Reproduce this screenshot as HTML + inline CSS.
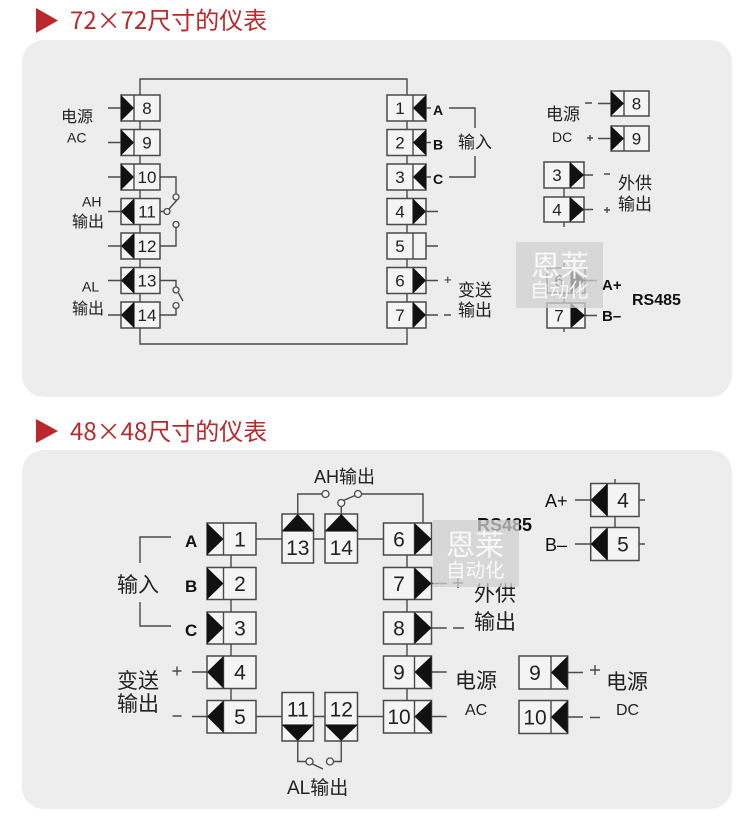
<!DOCTYPE html>
<html><head><meta charset="utf-8"><style>
html,body{margin:0;padding:0;background:#fff;}
svg{display:block;}
.cj{font-family:"Liberation Sans","Noto Sans CJK SC",sans-serif;fill:#222;}
.n{font-family:"Liberation Sans",sans-serif;fill:#222;text-anchor:middle;}
.b{font-family:"Liberation Sans",sans-serif;font-weight:bold;fill:#111;}
.box{fill:#f4f4f4;stroke:#4a4a4a;stroke-width:1.5;}
.ln{stroke:#4a4a4a;stroke-width:1.4;fill:none;}
.tri{fill:#111;}
.c{fill:#f4f4f4;stroke:#4a4a4a;stroke-width:1.3;}
</style></head><body>
<svg width="750" height="836" viewBox="0 0 750 836" xmlns="http://www.w3.org/2000/svg">
<!-- headers -->
<polygon points="36,8 58,20.5 36,33" fill="#b8282c"/>
<text x="70" y="29" font-family="Noto Sans CJK SC, sans-serif" font-size="24" fill="#b8282c">72×72尺寸的仪表</text>
<polygon points="36,419 58,431 36,443" fill="#b8282c"/>
<text x="70" y="440" font-family="Noto Sans CJK SC, sans-serif" font-size="24" fill="#b8282c">48×48尺寸的仪表</text>

<!-- panels -->
<rect x="22" y="40" width="710" height="357" rx="22" fill="#ededed"/>
<rect x="22" y="450" width="710" height="359" rx="22" fill="#ededed"/>

<!-- ===== TOP PANEL ===== -->
<path class="ln" d="M140,95 V79 H407 V95 M140,328 V344 H407 V328 M140,95 V328 M407,95 V328"/>
<path class="ln" d="M108,108 H121 M108,142.5 H121 M108,177 H121 M108,211.5 H121 M108,246 H121 M108,280.5 H121 M108,315 H121"/>
<path class="ln" d="M160,177 H176 V194 M160,211.5 H164 M169,209 L177,200 M160,246 H176 V227.5 M160,280.5 H176 V286.5 M178.5,293 L183,301 M160,315 H176 V308.5"/>
<circle class="c" cx="176" cy="197" r="3"/>
<circle class="c" cx="167" cy="211.5" r="3"/>
<circle class="c" cx="176" cy="224.5" r="3"/>
<circle class="c" cx="176" cy="290" r="3"/>
<circle class="c" cx="176" cy="305.5" r="3"/>
<g>
<rect class="box" x="121" y="95" width="39" height="26"/><line class="ln" x1="134" y1="95" x2="134" y2="121"/><polygon class="tri" points="121,95 134,108 121,121"/><text class="n" x="147" y="114" font-size="17">8</text>
<rect class="box" x="121" y="129.5" width="39" height="26"/><line class="ln" x1="134" y1="129.5" x2="134" y2="155.5"/><polygon class="tri" points="121,129.5 134,142.5 121,155.5"/><text class="n" x="147" y="148.5" font-size="17">9</text>
<rect class="box" x="121" y="164" width="39" height="26"/><line class="ln" x1="134" y1="164" x2="134" y2="190"/><polygon class="tri" points="121,164 134,177 121,190"/><text class="n" x="147" y="183" font-size="17">10</text>
<rect class="box" x="121" y="198.5" width="39" height="26"/><line class="ln" x1="134" y1="198.5" x2="134" y2="224.5"/><polygon class="tri" points="134,198.5 121,211.5 134,224.5"/><text class="n" x="147" y="217.5" font-size="17">11</text>
<rect class="box" x="121" y="233" width="39" height="26"/><line class="ln" x1="134" y1="233" x2="134" y2="259"/><polygon class="tri" points="134,233 121,246 134,259"/><text class="n" x="147" y="252" font-size="17">12</text>
<rect class="box" x="121" y="267.5" width="39" height="26"/><line class="ln" x1="134" y1="267.5" x2="134" y2="293.5"/><polygon class="tri" points="134,267.5 121,280.5 134,293.5"/><text class="n" x="147" y="286.5" font-size="17">13</text>
<rect class="box" x="121" y="302" width="39" height="26"/><line class="ln" x1="134" y1="302" x2="134" y2="328"/><polygon class="tri" points="134,302 121,315 134,328"/><text class="n" x="147" y="321" font-size="17">14</text>
</g>
<text class="cj" x="61" y="122" font-size="16">电源</text>
<text class="cj" x="67" y="142.5" font-size="14">AC</text>
<text class="cj" x="82" y="206.5" font-size="14">AH</text>
<text class="cj" x="72" y="227" font-size="16">输出</text>
<text class="cj" x="82" y="291.5" font-size="14">AL</text>
<text class="cj" x="72" y="314" font-size="16">输出</text>

<path class="ln" d="M426,108 H431 M426,142.5 H431 M426,177 H431 M426,211.5 H438 M426,246 H438 M426,280.5 H438 M426,315 H438 M444,315 H451"/>
<path class="ln" d="M449,108 H475 V128 M475,156 V177 H449"/>
<text class="cj" x="444" y="284" font-size="13">+</text>
<g>
<rect class="box" x="387" y="95" width="39" height="26"/><line class="ln" x1="413" y1="95" x2="413" y2="121"/><polygon class="tri" points="426,95 413,108 426,121"/><text class="n" x="400" y="114" font-size="17">1</text>
<rect class="box" x="387" y="129.5" width="39" height="26"/><line class="ln" x1="413" y1="129.5" x2="413" y2="155.5"/><polygon class="tri" points="426,129.5 413,142.5 426,155.5"/><text class="n" x="400" y="148.5" font-size="17">2</text>
<rect class="box" x="387" y="164" width="39" height="26"/><line class="ln" x1="413" y1="164" x2="413" y2="190"/><polygon class="tri" points="426,164 413,177 426,190"/><text class="n" x="400" y="183" font-size="17">3</text>
<rect class="box" x="387" y="198.5" width="39" height="26"/><line class="ln" x1="413" y1="198.5" x2="413" y2="224.5"/><polygon class="tri" points="413,198.5 426,211.5 413,224.5"/><text class="n" x="400" y="217.5" font-size="17">4</text>
<rect class="box" x="387" y="233" width="39" height="26"/><line class="ln" x1="413" y1="233" x2="413" y2="259"/><text class="n" x="400" y="252" font-size="17">5</text>
<rect class="box" x="387" y="267.5" width="39" height="26"/><line class="ln" x1="413" y1="267.5" x2="413" y2="293.5"/><polygon class="tri" points="413,267.5 426,280.5 413,293.5"/><text class="n" x="400" y="286.5" font-size="17">6</text>
<rect class="box" x="387" y="302" width="39" height="26"/><line class="ln" x1="413" y1="302" x2="413" y2="328"/><polygon class="tri" points="413,302 426,315 413,328"/><text class="n" x="400" y="321" font-size="17">7</text>
</g>
<text class="b" x="433" y="115" font-size="14">A</text>
<text class="b" x="433" y="149.5" font-size="14">B</text>
<text class="b" x="433" y="184" font-size="14">C</text>
<text class="cj" x="458" y="148" font-size="17">输入</text>
<text class="cj" x="458" y="296" font-size="17">变送</text>
<text class="cj" x="458" y="316" font-size="17">输出</text>

<path class="ln" d="M598,103.5 H611 M598,138.5 H611 M585,103 H592 M587,138 H593 M590,135 V141"/>
<rect class="box" x="611" y="91" width="38" height="25"/><line class="ln" x1="624" y1="91" x2="624" y2="116"/><polygon class="tri" points="611,91 624,103.5 611,116"/><text class="n" x="636.5" y="109.5" font-size="17">8</text>
<rect class="box" x="611" y="126" width="38" height="25"/><line class="ln" x1="624" y1="126" x2="624" y2="151"/><polygon class="tri" points="611,126 624,138.5 611,151"/><text class="n" x="636.5" y="144.5" font-size="17">9</text>
<text class="cj" x="546" y="120" font-size="17">电源</text>
<text class="cj" x="552" y="142" font-size="14">DC</text>

<path class="ln" d="M564,188 V197 M564,222 V227 M584,175 H593 M584,209.5 H593 M604,174 H610 M604,210 H610 M607,207 V213"/>
<rect class="box" x="544" y="162" width="40" height="26"/><line class="ln" x1="570" y1="162" x2="570" y2="188"/><polygon class="tri" points="570,162 584,175 570,188"/><text class="n" x="557" y="181" font-size="17">3</text>
<rect class="box" x="544" y="197" width="40" height="25"/><line class="ln" x1="570" y1="197" x2="570" y2="222"/><polygon class="tri" points="570,197 584,209.5 570,222"/><text class="n" x="557" y="215.5" font-size="17">4</text>
<text class="cj" x="618" y="189" font-size="17">外供</text>
<text class="cj" x="618" y="210" font-size="17">输出</text>

<path class="ln" d="M564,263 V268 M564,293 V303 M564,328 V332 M585,280.5 H597 M585,315.5 H597"/>
<rect class="box" x="547" y="268" width="38" height="25"/><line class="ln" x1="571" y1="268" x2="571" y2="293"/><polygon class="tri" points="571,268 585,280.5 571,293"/><text class="n" x="559" y="286.5" font-size="17">6</text>
<rect class="box" x="547" y="303" width="38" height="25"/><line class="ln" x1="571" y1="303" x2="571" y2="328"/><polygon class="tri" points="571,303 585,315.5 571,328"/><text class="n" x="559" y="321.5" font-size="17">7</text>
<text class="b" x="602" y="290" font-size="15">A+</text>
<text class="b" x="602" y="321" font-size="15">B–</text>
<text class="b" x="632" y="305" font-size="16">RS485</text>
<rect x="516" y="242" width="87" height="66" fill="#cfcfcf" fill-opacity="0.75"/>
<text x="531" y="276" font-family="Noto Sans CJK SC, sans-serif" font-size="29" fill="#ffffff" fill-opacity="0.85">恩莱</text>
<text x="530" y="297" font-family="Noto Sans CJK SC, sans-serif" font-size="19.5" fill="#ffffff" fill-opacity="0.85">自动化</text>

<!-- ===== BOTTOM PANEL ===== -->
<path class="ln" d="M231,555 V700.5 M407,555 V700.5"/>
<path class="ln" d="M256,539 H282 M313.5,539 H325 M357.5,539 H383.5 M256,716.5 H282 M313.5,716.5 H325 M357.5,716.5 H383.5"/>
<path class="ln" d="M297.75,514 V494 H322 M341.25,514 V506.5 M343.5,500.5 L355,495.5 M361.5,494 H423 V523"/>
<circle class="c" cx="325.5" cy="494" r="3.5"/>
<circle class="c" cx="341.25" cy="503" r="3.5"/>
<circle class="c" cx="358" cy="494" r="3.5"/>
<path class="ln" d="M297.75,741 V761.5 H306 M312.5,764 L323,769 M333.5,761.5 H341.25 V741"/>
<circle class="c" cx="309.5" cy="761.5" r="3.5"/>
<circle class="c" cx="330" cy="761.5" r="3.5"/>
<path class="ln" d="M192,672 H207 M192,716.5 H207 M140,563 V537 H171 M140,602 V626 H171"/>
<path class="ln" d="M172.5,671 H181.5 M177,666.5 V675.5 M172.5,716 H181.5"/>
<rect class="box" x="207" y="523" width="49" height="32"/><line class="ln" x1="223.5" y1="523" x2="223.5" y2="555"/><polygon class="tri" points="207,523 223.5,539 207,555"/><text class="n" x="240" y="546.5" font-size="21">1</text>
<rect class="box" x="207" y="567.5" width="49" height="32"/><line class="ln" x1="223.5" y1="567.5" x2="223.5" y2="599.5"/><polygon class="tri" points="207,567.5 223.5,583.5 207,599.5"/><text class="n" x="240" y="591" font-size="21">2</text>
<rect class="box" x="207" y="612" width="49" height="32"/><line class="ln" x1="223.5" y1="612" x2="223.5" y2="644"/><polygon class="tri" points="207,612 223.5,628 207,644"/><text class="n" x="240" y="635.5" font-size="21">3</text>
<rect class="box" x="207" y="656" width="49" height="32.5"/><line class="ln" x1="223.5" y1="656" x2="223.5" y2="688.5"/><polygon class="tri" points="223.5,656 207,672 223.5,688.5"/><text class="n" x="240" y="679.5" font-size="21">4</text>
<rect class="box" x="207" y="700.5" width="49" height="32.5"/><line class="ln" x1="223.5" y1="700.5" x2="223.5" y2="733"/><polygon class="tri" points="223.5,700.5 207,716.5 223.5,733"/><text class="n" x="240" y="724" font-size="21">5</text>
<text class="b" x="185" y="547" font-size="17">A</text>
<text class="b" x="185" y="592" font-size="17">B</text>
<text class="b" x="185" y="636" font-size="17">C</text>
<text class="cj" x="117" y="592" font-size="21">输入</text>
<text class="cj" x="117" y="688" font-size="21">变送</text>
<text class="cj" x="117" y="711" font-size="21">输出</text>

<rect class="box" x="282" y="514" width="31.5" height="49"/><line class="ln" x1="282" y1="531" x2="313.5" y2="531"/><polygon class="tri" points="282,531 297.75,514 313.5,531"/><text class="n" x="297.75" y="555" font-size="21">13</text>
<rect class="box" x="325" y="514" width="32.5" height="49"/><line class="ln" x1="325" y1="531" x2="357.5" y2="531"/><polygon class="tri" points="325,531 341.25,514 357.5,531"/><text class="n" x="341.25" y="555" font-size="21">14</text>
<rect class="box" x="282" y="692.5" width="31.5" height="48.5"/><line class="ln" x1="282" y1="725" x2="313.5" y2="725"/><polygon class="tri" points="282,725 297.75,741 313.5,725"/><text class="n" x="297.75" y="716.5" font-size="21">11</text>
<rect class="box" x="325" y="692.5" width="32.5" height="48.5"/><line class="ln" x1="325" y1="725" x2="357.5" y2="725"/><polygon class="tri" points="325,725 341.25,741 357.5,725"/><text class="n" x="341.25" y="716.5" font-size="21">12</text>
<text class="cj" x="314" y="483" font-size="18">AH输出</text>
<text class="cj" x="287" y="794" font-size="19">AL输出</text>

<path class="ln" d="M431.5,583.5 H446.7 M431.5,628 H446.7 M431.5,672 H446.7 M431.5,716.5 H446.7 M453,583 H463 M458,578 V588 M453,628 H464"/>
<rect class="box" x="383.5" y="523" width="48" height="32"/><line class="ln" x1="414.5" y1="523" x2="414.5" y2="555"/><polygon class="tri" points="414.5,523 431.5,539 414.5,555"/><text class="n" x="399" y="546.5" font-size="21">6</text>
<rect class="box" x="383.5" y="567.5" width="48" height="32"/><line class="ln" x1="414.5" y1="567.5" x2="414.5" y2="599.5"/><polygon class="tri" points="414.5,567.5 431.5,583.5 414.5,599.5"/><text class="n" x="399" y="591" font-size="21">7</text>
<rect class="box" x="383.5" y="612" width="48" height="32"/><line class="ln" x1="414.5" y1="612" x2="414.5" y2="644"/><polygon class="tri" points="414.5,612 431.5,628 414.5,644"/><text class="n" x="399" y="635.5" font-size="21">8</text>
<rect class="box" x="383.5" y="656" width="48" height="32.5"/><line class="ln" x1="414.5" y1="656" x2="414.5" y2="688.5"/><polygon class="tri" points="431.5,656 414.5,672 431.5,688.5"/><text class="n" x="399" y="679.5" font-size="21">9</text>
<rect class="box" x="383.5" y="700.5" width="48" height="32.5"/><line class="ln" x1="414.5" y1="700.5" x2="414.5" y2="733"/><polygon class="tri" points="431.5,700.5 414.5,716.5 431.5,733"/><text class="n" x="399" y="724" font-size="21">10</text>
<text class="cj" x="474" y="601" font-size="21">外供</text>
<text class="cj" x="474" y="629" font-size="21">输出</text>
<text class="cj" x="455" y="688" font-size="21">电源</text>
<text class="cj" x="465" y="715" font-size="16">AC</text>
<text class="b" x="477" y="531" font-size="18">RS485</text>
<rect x="433" y="520" width="86" height="67" fill="#cfcfcf" fill-opacity="0.75"/>
<text x="446" y="555" font-family="Noto Sans CJK SC, sans-serif" font-size="29" fill="#ffffff" fill-opacity="0.85">恩莱</text>
<text x="446" y="577" font-family="Noto Sans CJK SC, sans-serif" font-size="19.5" fill="#ffffff" fill-opacity="0.85">自动化</text>

<path class="ln" d="M615,479 V483.5 M615,516.5 V527.5 M639,500 H645 M639,544 H645 M575,500 H590.7 M575,544 H590.7"/>
<rect class="box" x="590.7" y="483.5" width="48.3" height="33"/><line class="ln" x1="607.3" y1="483.5" x2="607.3" y2="516.5"/><polygon class="tri" points="607.3,483.5 590.7,500 607.3,516.5"/><text class="n" x="623" y="507.5" font-size="21">4</text>
<rect class="box" x="590.7" y="527.5" width="48.3" height="33"/><line class="ln" x1="607.3" y1="527.5" x2="607.3" y2="560.5"/><polygon class="tri" points="607.3,527.5 590.7,544 607.3,560.5"/><text class="n" x="623" y="551.5" font-size="21">5</text>
<text x="545" y="507" font-family="Liberation Sans, sans-serif" font-size="18" fill="#111">A+</text>
<text x="545" y="551" font-family="Liberation Sans, sans-serif" font-size="18" fill="#111">B–</text>

<path class="ln" d="M567.7,672.5 H583 M567.7,717 H583 M590,670 H600 M595,665 V675 M590,717.5 H600"/>
<rect class="box" x="519" y="656" width="48.7" height="33"/><line class="ln" x1="551" y1="656" x2="551" y2="689"/><polygon class="tri" points="567.7,656 551,672.5 567.7,689"/><text class="n" x="535" y="680" font-size="21">9</text>
<rect class="box" x="519" y="700.5" width="48.7" height="33"/><line class="ln" x1="551" y1="700.5" x2="551" y2="733.5"/><polygon class="tri" points="567.7,700.5 551,717 567.7,733.5"/><text class="n" x="535" y="724.5" font-size="21">10</text>
<text class="cj" x="606" y="689" font-size="21">电源</text>
<text class="cj" x="616" y="715" font-size="16">DC</text>
</svg>
</body></html>
